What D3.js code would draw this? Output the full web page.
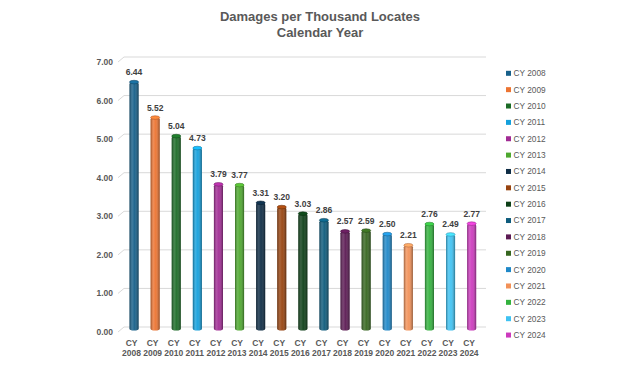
<!DOCTYPE html>
<html>
<head>
<meta charset="utf-8">
<script src="https://cdn.jsdelivr.net/npm/d3@7"></script>
<style>
  body { margin: 0; background: #fff; }
  svg { display: block; font-family: "Liberation Sans", Arial, sans-serif; }
</style>
</head>
<body>
<div id="chart"></div>
<script>
const years = ["2008", "2009", "2010", "2011", "2012", "2013", "2014", "2015", "2016",
  "2017", "2018", "2019", "2020", "2021", "2022", "2023", "2024"];
const damages = [6.44, 5.52, 5.04, 4.73, 3.79, 3.77, 3.31, 3.20, 3.03,
  2.86, 2.57, 2.59, 2.50, 2.21, 2.76, 2.49, 2.77];
const barColors = ["#17608a", "#ec7432", "#1b6b26", "#14a0dc", "#a12b94", "#4ea82f",
  "#0e2c45", "#97430f", "#0d3f17", "#0d5b7c", "#5c1b54", "#36661f",
  "#1f88c8", "#f29158", "#33b23e", "#3fc2f2", "#cc3abd"];
const yTicks = [0, 1, 2, 3, 4, 5, 6, 7];

const width = 640;
const height = 372;

const svg = d3.select("#chart")
  .append("svg")
  .attr("width", width)
  .attr("height", height);

// title
svg.append("text")
  .attr("x", 320).attr("y", 21)
  .attr("text-anchor", "middle")
  .attr("font-size", 13).attr("font-weight", "bold")
  .attr("fill", "#595959")
  .text("Damages per Thousand Locates");
svg.append("text")
  .attr("x", 320).attr("y", 37)
  .attr("text-anchor", "middle")
  .attr("font-size", 13).attr("font-weight", "bold")
  .attr("fill", "#595959")
  .text("Calendar Year");

const x = d3.scaleBand()
  .domain(years)
  .range([123.5, 482.2])
  .paddingInner(0.57)
  .paddingOuter(0.285);

// grid wall, floor sits a little below
const y = d3.scaleLinear().domain([0, 7]).range([327, 57]);
const depth = 3.5;

const grid = svg.append("g");
yTicks.forEach((t) => {
  grid.append("path")
    .attr("d", `M118,${y(t) + 5} L124,${y(t)} L486,${y(t)}`)
    .attr("fill", "none")
    .attr("stroke", "#d9d9d9")
    .attr("stroke-width", 1);
  grid.append("text")
    .attr("x", 113).attr("y", y(t) + 5)
    .attr("dy", "0.35em")
    .attr("text-anchor", "end")
    .attr("font-size", 8.5).attr("font-weight", "bold")
    .attr("fill", "#595959")
    .text(d3.format(".2f")(t));
});

// cylinder shading
const defs = svg.append("defs");
const shade = defs.append("linearGradient").attr("id", "shade")
  .attr("x1", "0%").attr("x2", "100%").attr("y1", "0%").attr("y2", "0%");
shade.append("stop").attr("offset", "0%").attr("stop-color", "#000").attr("stop-opacity", 0.35);
shade.append("stop").attr("offset", "30%").attr("stop-color", "#fff").attr("stop-opacity", 0.18);
shade.append("stop").attr("offset", "55%").attr("stop-color", "#fff").attr("stop-opacity", 0.05);
shade.append("stop").attr("offset", "100%").attr("stop-color", "#000").attr("stop-opacity", 0.4);

const bars = svg.append("g")
  .selectAll("g")
  .data(years)
  .join("g");

bars.append("rect")
  .attr("x", (d) => x(d))
  .attr("y", (d, i) => y(damages[i]) + depth)
  .attr("width", x.bandwidth())
  .attr("height", (d, i) => y(0) - y(damages[i]))
  .attr("rx", x.bandwidth() / 2).attr("ry", 2)
  .attr("fill", (d, i) => barColors[i]);

bars.append("rect")
  .attr("x", (d) => x(d))
  .attr("y", (d, i) => y(damages[i]) + depth)
  .attr("width", x.bandwidth())
  .attr("height", (d, i) => y(0) - y(damages[i]))
  .attr("rx", x.bandwidth() / 2).attr("ry", 2)
  .attr("fill", "url(#shade)");

bars.append("ellipse")
  .attr("cx", (d) => x(d) + x.bandwidth() / 2)
  .attr("cy", (d, i) => y(damages[i]) + depth)
  .attr("rx", x.bandwidth() / 2)
  .attr("ry", 1.8)
  .attr("fill", (d, i) => d3.color(barColors[i]).brighter(0.5))
  .attr("stroke", (d, i) => d3.color(barColors[i]).darker(0.8))
  .attr("stroke-width", 0.6);

bars.append("text")
  .attr("x", (d) => x(d) + x.bandwidth() / 2)
  .attr("y", (d, i) => y(damages[i]) + depth - 10)
  .attr("dy", "0.35em")
  .attr("text-anchor", "middle")
  .attr("font-size", 8.5).attr("font-weight", "bold")
  .attr("fill", "#404040")
  .text((d, i) => d3.format(".2f")(damages[i]));

// category labels
const xLabels = svg.append("g");
years.forEach((yr) => {
  const cx = x(yr) + x.bandwidth() / 2 - 2.5;
  const t = xLabels.append("text")
    .attr("text-anchor", "middle")
    .attr("font-size", 8.5).attr("font-weight", "bold")
    .attr("fill", "#595959");
  t.append("tspan").attr("x", cx).attr("y", 346).text("CY");
  t.append("tspan").attr("x", cx).attr("y", 356).text(yr);
});

// legend
const legend = svg.append("g")
  .selectAll("g")
  .data(years)
  .join("g")
  .attr("transform", (d, i) => `translate(506, ${73.3 + i * 16.36})`);

legend.append("rect")
  .attr("x", 0).attr("y", -2.5)
  .attr("width", 5).attr("height", 5)
  .attr("fill", (d, i) => barColors[i]);

legend.append("text")
  .attr("x", 7.5).attr("dy", "0.35em")
  .attr("font-size", 8.3)
  .attr("fill", "#595959")
  .text((d) => "CY " + d);
</script>
</body>
</html>
